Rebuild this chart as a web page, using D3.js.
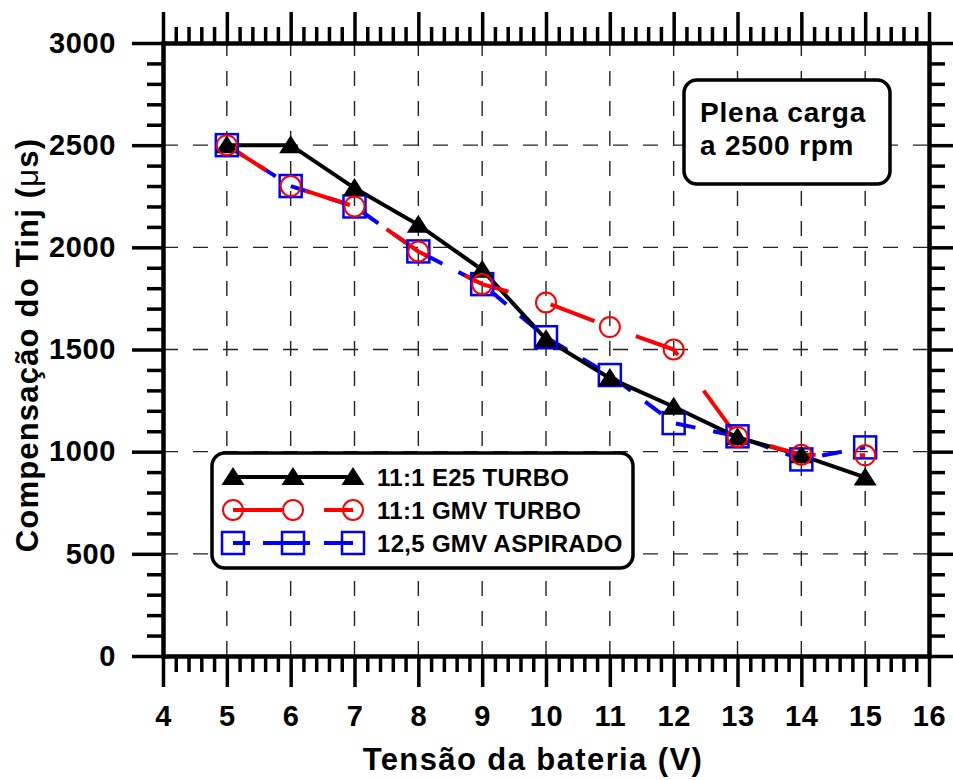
<!DOCTYPE html>
<html>
<head>
<meta charset="utf-8">
<script src="https://cdn.jsdelivr.net/npm/d3@7"></script>
<style>
  body { margin: 0; background: #fff; }
  svg { font-family: "Liberation Sans", Arial, sans-serif; font-weight: bold; }
</style>
</head>
<body>
<svg id="chart" width="953" height="780"></svg>
<script>
// values
const voltage = [5, 6, 7, 8, 9, 10, 11, 12, 13, 14, 15];
const e25Turbo = [2500, 2500, 2290, 2110, 1890, 1550, 1360, 1220, 1070, 982, 874];
const gmvTurbo = [2500, 2300, 2200, 1980, 1820, 1730, 1610, 1500, 1072, 985, 982];
const gmvAspirado = [2500, 2300, 2200, 1980, 1820, 1560, 1375, 1140, 1075, 962, 1021];
const seriesNames = ["11:1 E25 TURBO", "11:1 GMV TURBO", "12,5 GMV ASPIRADO"];
const xTicks = d3.range(4, 17, 1);
const yTicks = d3.range(0, 3001, 500);

const svg = d3.select("#chart");
const plotLeft = 163, plotRight = 929, plotTop = 43, plotBottom = 656;

const x = d3.scaleLinear().domain([4, 16]).range([plotLeft, plotRight]);
const y = d3.scaleLinear().domain([0, 3000]).range([plotBottom, plotTop]);

const xMinor = d3.range(4, 16.001, 0.2).filter((v) => Math.abs(v - Math.round(v)) > 0.01);
const yMinor = d3.range(0, 3001, 100).filter((v) => v % 500 !== 0);

// dashed grid at every major tick
const grid = svg.append("g").attr("stroke", "#222").attr("stroke-width", 1.4).attr("stroke-dasharray", "15,15");
grid.selectAll(".gx").data(xTicks.slice(1, -1)).enter().append("line")
  .attr("x1", (d) => x(d)).attr("x2", (d) => x(d))
  .attr("y1", plotBottom).attr("y2", plotTop);
grid.selectAll(".gy").data(yTicks.slice(1, -1)).enter().append("line")
  .attr("x1", plotLeft).attr("x2", plotRight)
  .attr("y1", (d) => y(d)).attr("y2", (d) => y(d));

// axes: major + minor ticks on all four sides, pointing outward
function styleAxis(g) {
  g.selectAll("path").attr("stroke", "#000").attr("stroke-width", 4).attr("stroke-linecap", "square");
  g.selectAll("line").attr("stroke", "#000").attr("stroke-width", 3.5);
  g.selectAll("text").attr("fill", "#000")
    .style("font-size", "29px").style("font-weight", "bold").style("letter-spacing", "0.6px")
    .style("font-family", "'Liberation Sans', Arial, sans-serif");
}

function addAxes(axisFn, scale, majors, minors, transform, labels, padding) {
  const gMinor = svg.append("g").attr("transform", transform)
    .call(axisFn(scale).tickValues(minors).tickSize(16).tickSizeOuter(0).tickFormat(""));
  styleAxis(gMinor);
  const gMajor = svg.append("g").attr("transform", transform)
    .call(axisFn(scale).tickValues(majors).tickSize(31).tickSizeOuter(0).tickPadding(padding)
      .tickFormat(labels ? d3.format("d") : ""));
  styleAxis(gMajor);
  return gMajor;
}

addAxes(d3.axisBottom, x, xTicks, xMinor, "translate(0," + plotBottom + ")", true, 18);
addAxes(d3.axisTop, x, xTicks, xMinor, "translate(0," + plotTop + ")", false, 0);
addAxes(d3.axisLeft, y, yTicks, yMinor, "translate(" + plotLeft + ",0)", true, 16);
addAxes(d3.axisRight, y, yTicks, yMinor, "translate(" + plotRight + ",0)", false, 0);

// axis titles
svg.append("text")
  .attr("x", 533).attr("y", 770)
  .attr("text-anchor", "middle")
  .style("font-size", "31px")
  .style("letter-spacing", "1.4px")
  .text("Tensão da bateria (V)");

const yTitle = svg.append("text")
  .attr("transform", "translate(38," + 345 + ") rotate(-90)")
  .attr("text-anchor", "middle")
  .style("font-size", "31px")
  .style("letter-spacing", "1.2px");
yTitle.append("tspan").text("Compensação do Tinj (");
yTitle.append("tspan").style("font-weight", "normal").text("μ");
yTitle.append("tspan").text("s)");

// series lines
const line = d3.line().x((d) => x(d[0])).y((d) => y(d[1]));
const series = [
  { values: gmvAspirado, color: "#0000ff", dash: "20,18", marker: "square" },
  { values: e25Turbo, color: "#000000", dash: null, marker: "triangle" },
  { values: gmvTurbo, color: "#ff0000", dash: "47,44", marker: "circle" }
];

series.forEach((s) => {
  svg.append("path")
    .datum(voltage.map((v, i) => [v, s.values[i]]))
    .attr("fill", "none")
    .attr("stroke", s.color)
    .attr("stroke-width", 4)
    .attr("stroke-dasharray", s.dash)
    .attr("d", line);
});

function drawMarker(g, type, cx, cy) {
  if (type === "triangle") {
    g.append("path")
      .attr("d", "M" + cx + "," + (cy - 10) + "L" + (cx + 11.5) + "," + (cy + 8) + "L" + (cx - 11.5) + "," + (cy + 8) + "Z")
      .attr("fill", "#000");
  } else if (type === "circle") {
    g.append("circle").attr("cx", cx).attr("cy", cy).attr("r", 10)
      .attr("fill", "none").attr("stroke", "#ff0000").attr("stroke-width", 2);
  } else {
    g.append("rect").attr("x", cx - 11).attr("y", cy - 11).attr("width", 22).attr("height", 22)
      .attr("fill", "none").attr("stroke", "#0000ff").attr("stroke-width", 2.5);
  }
}

const markers = svg.append("g");
series.forEach((s) => {
  voltage.forEach((v, i) => drawMarker(markers, s.marker, x(v), y(s.values[i])));
});

// legend box
const legend = svg.append("g");
legend.append("rect")
  .attr("x", 212).attr("y", 453).attr("width", 421).attr("height", 115).attr("rx", 13)
  .attr("fill", "#fff").attr("stroke", "#000").attr("stroke-width", 3.5);

const legendRows = [
  { name: seriesNames[0], color: "#000", dash: null, marker: "triangle" },
  { name: seriesNames[1], color: "#ff0000", dash: "49,42,29", marker: "circle" },
  { name: seriesNames[2], color: "#0000ff", dash: "17,13,47,14,29", marker: "square" }
];
legendRows.forEach((r, i) => {
  const ly = 477 + i * 33;
  legend.append("line")
    .attr("x1", 233).attr("x2", 353).attr("y1", ly).attr("y2", ly)
    .attr("stroke", r.color).attr("stroke-width", 4)
    .attr("stroke-dasharray", r.dash);
  [233, 293, 353].forEach((mx) => drawMarker(legend, r.marker, mx, ly));
  legend.append("text")
    .attr("x", 377).attr("y", ly).attr("dy", "0.36em")
    .style("font-size", "24px")
    .style("letter-spacing", "0.3px")
    .text(r.name);
});

// annotation box
const note = svg.append("g");
note.append("rect")
  .attr("x", 684).attr("y", 80).attr("width", 206).attr("height", 104).attr("rx", 13)
  .attr("fill", "#fff").attr("stroke", "#000").attr("stroke-width", 3.5);
note.append("text").attr("x", 700).attr("y", 122).style("font-size", "28px").style("letter-spacing", "0.8px").text("Plena carga");
note.append("text").attr("x", 700).attr("y", 155).style("font-size", "28px").style("letter-spacing", "0.8px").text("a 2500 rpm");
</script>
</body>
</html>
